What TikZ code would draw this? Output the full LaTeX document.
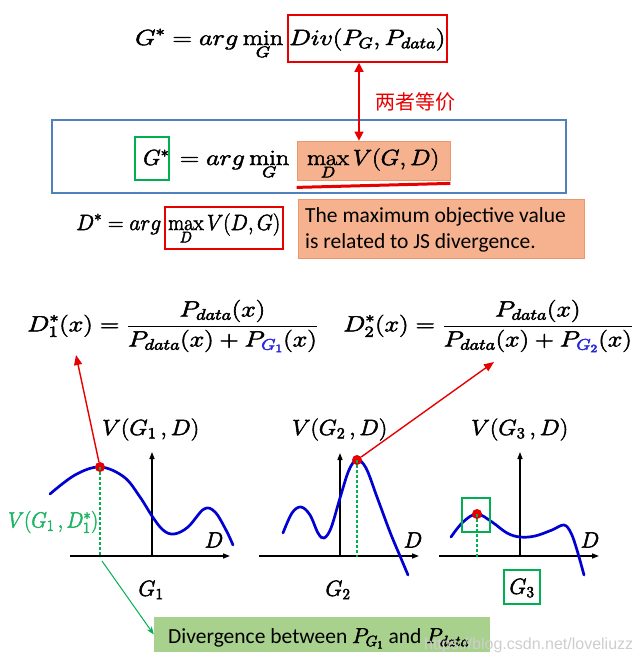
\RequirePackage{fix-cm}
\documentclass[tikz,border=0pt]{standalone}
\usepackage{graphicx}
\usepackage{fontspec}
\newfontfamily\carlito{Carlito}
\newfontfamily\cjkfont{Noto Sans CJK SC}
\newfontfamily\wmfont{Liberation Sans}
\usetikzlibrary{arrows.meta}
\newcommand{\hv}[1]{\special{pdf:literal direct 2 Tr 0.5 w}#1\special{pdf:literal direct 0 Tr}}
\newcommand{\fw}[2]{\resizebox{#1}{\height}{\hv{#2}}}
\definecolor{myred}{RGB}{232,0,0}
\definecolor{mygreen}{RGB}{0,176,80}
\definecolor{labgreen}{RGB}{30,180,100}
\definecolor{myblue}{RGB}{79,129,189}
\definecolor{curveblue}{RGB}{0,0,210}
\definecolor{subblue}{RGB}{40,40,220}
\definecolor{orfill}{RGB}{246,178,142}
\definecolor{ordraw}{RGB}{236,150,110}
\definecolor{grfill}{RGB}{169,209,142}
\definecolor{wmgray}{RGB}{205,205,205}
\begin{document}
\begin{tikzpicture}[x=1pt,y=-1pt,
  mth/.style={inner sep=0pt, font=\fontsize{22}{26}\selectfont},
  sans/.style={inner sep=0pt, font=\carlito\fontsize{21.5}{26}\selectfont},
  framebox/.style={inner sep=0pt, line width=1.6pt},
  curve/.style={curveblue, line width=2.7pt, line cap=round},
  axis/.style={black, line width=1.4pt, -{Triangle[length=7pt,width=5pt]}},
  dot/.style={circle, fill=myred, inner sep=0pt, minimum size=10pt},
  vdots/.style={mygreen, line width=2.4pt, dash pattern=on 2.5pt off 2.5pt},
  redarr/.style={myred, line width=1.4pt, -{Triangle[length=10pt,width=8pt]}}]
\useasboundingbox (0,0) rectangle (639,662);

% ---- top equation
\node[mth, anchor=base west] (eq1) at (135,45) {\fw{148pt}{$\displaystyle G^*=arg\min_G$}};
\node[framebox, draw=myred, minimum width=159pt, minimum height=47pt] (div) at (367.5,38.5) {};
\node[mth, anchor=base west] (divtext) at (289,45) {\fw{156pt}{$Div(P_G,P_{data})$}};

% ---- middle blue box
\node[framebox, draw=myblue, line width=1.5pt, minimum width=514pt, minimum height=73pt] (bluebox) at (309,156.5) {};
\node[framebox, draw=mygreen, line width=2pt, minimum width=34pt, minimum height=43pt] (gbox) at (152,158.5) {};
\node[mth, anchor=base west] (gs) at (143,165) {\fw{26pt}{$G^*$}};
\node[mth, anchor=base west] (eq2) at (180,165) {\fw{109pt}{$\displaystyle =arg\min_G$}};
\node[framebox, draw=ordraw, fill=orfill, line width=0.8pt, minimum width=153pt, minimum height=39pt] (maxb) at (373.5,160.5) {};
\node[mth, anchor=base west] (maxv) at (307,165) {\fw{132pt}{$\displaystyle\max_D V(G,D)$}};
\draw[myred, line width=3pt] ([yshift=-7pt]maxb.south west) -- ([yshift=-3pt]maxb.south east);

% equivalence arrow
\draw[myred, line width=1.5pt, {Triangle[length=9pt,width=9pt]}-{Triangle[length=9pt,width=9pt]}]
  ([xshift=-8.5pt]div.south) -- ([xshift=-14.5pt]maxb.north);
\node[inner sep=0pt, font=\cjkfont\fontsize{20}{24}\selectfont, text=myred] (eqv) at (415,102) {两者等价};

% ---- D* line
\node[mth, anchor=base west] (eq3) at (76,230) {\fw{85pt}{$\displaystyle D^*=arg$}};
\node[framebox, draw=myred, minimum width=118pt, minimum height=42pt] (dbox) at (224,228) {};
\node[mth, anchor=base west] (eq3b) at (168,230) {\fw{112pt}{$\displaystyle\max_D V(D,G)$}};
\node[framebox, draw=ordraw, fill=orfill, line width=0.8pt, minimum width=286pt, minimum height=59pt] (jsbox) at (441,228.5) {};
\node[sans, anchor=base west] (js1) at (305,222) {The maximum objective value};
\node[sans, anchor=base west] (js2) at (305,248) {is related to JS divergence.};

% ---- D1*, D2* formulas
\node[mth, anchor=west] (d1) at (27,326) {\fw{291pt}{$\displaystyle D_1^*(x)=\frac{P_{data}(x)}{P_{data}(x)+P_{\color{subblue}G_1}(x)}$}};
\node[mth, anchor=west] (d2) at (343,326) {\fw{290pt}{$\displaystyle D_2^*(x)=\frac{P_{data}(x)}{P_{data}(x)+P_{\color{subblue}G_2}(x)}$}};

% ---- graph 1
\draw[axis] (70,556) -- (230,556);
\draw[axis] (152,556) -- (152,452);
\draw[curve] plot[smooth, tension=0.6] coordinates {(50,494) (75,475) (100,467) (124,477) (140,497) (152,516) (163,530) (174,534) (188,527) (204,509) (215,512) (226,530) (233,545)};
\node[mth, anchor=base west] (v1) at (102,435) {\fw{97pt}{$V(G_1\,,D)$}};
\node[mth] (dl1) at (214,540) {\hv{$D$}};
\node[mth] (g1) at (151,590) {\hv{$G_1$}};
\node[mth, text=labgreen, anchor=west] (v1s) at (8,522) {\fw{90pt}{$V(G_1\,,D_1^*)$}};
\node[dot] (p1) at (100,467) {};
\coordinate (b1) at (100,557);
\draw[vdots] (p1.center) -- (b1);

% ---- graph 2
\draw[axis] (259,556) -- (419,556);
\draw[axis] (340,556) -- (340,453);
\draw[curve] plot[smooth, tension=0.6] coordinates {(283,533) (292,513) (301,507) (310,515) (318,533) (324,538) (331,528) (340,498) (349,470) (357,460) (366,468) (377,497) (390,532) (400,556) (408,575)};
\node[mth, anchor=base west] (v2) at (292,435) {\fw{95pt}{$V(G_2\,,D)$}};
\node[mth] (dl2) at (413,540) {\hv{$D$}};
\node[mth] (g2) at (338,590) {\hv{$G_2$}};
\node[dot] (p2) at (357,460) {};
\coordinate (b2) at (357,557);
\draw[vdots] (p2.center) -- (b2);

% ---- graph 3
\draw[axis] (439,556) -- (599,556);
\draw[axis] (520,556) -- (520,452);
\draw[curve] plot[smooth, tension=0.6] coordinates {(451,537) (463,522) (477,514) (492,522) (507,533) (520,537) (535,536) (552,530) (564,525) (571,533) (577,550) (584,575)};
\node[mth, anchor=base west] (v3) at (471,435) {\fw{97pt}{$V(G_3\,,D)$}};
\node[mth] (dl3) at (590,540) {\hv{$D$}};
\node[mth] (g3) at (522,588) {\hv{$G_3$}};
\node[framebox, draw=mygreen, line width=2pt, minimum width=36pt, minimum height=34pt] (g3box) at (522,587) {};
\node[dot] (p3) at (477,514) {};
\node[framebox, draw=mygreen, line width=2pt, minimum width=28pt, minimum height=34pt] (p3box) at (476,515) {};
\coordinate (b3) at (477,557);
\draw[vdots] (p3.center) -- (b3);

% ---- red arrows to formulas
\coordinate (tip1) at (76,355);
\coordinate (tip2) at (494,362);
\draw[redarr] (p1) -- (tip1);
\draw[redarr] (p2) -- (tip2);

% ---- divergence box
\node[inner sep=0pt, fill=grfill, minimum width=336pt, minimum height=35pt] (divbox) at (322,634.5) {};
\node[sans, anchor=base west] (divtxt) at (168,643) {Divergence between \hv{$P_{G_1}$} and \hv{$P_{data}$}};
\coordinate (gs1) at (102,561);
\draw[mygreen, line width=1pt, -{Stealth[length=8pt,width=6pt]}] (gs1) -- (divbox.west);

% ---- watermark
\node[inner sep=0pt, anchor=west, font=\wmfont\fontsize{16}{18}\selectfont, text=wmgray] (wm) at (424,645) {https://blog.csdn.net/loveliuzz};
\end{tikzpicture}
\end{document}
